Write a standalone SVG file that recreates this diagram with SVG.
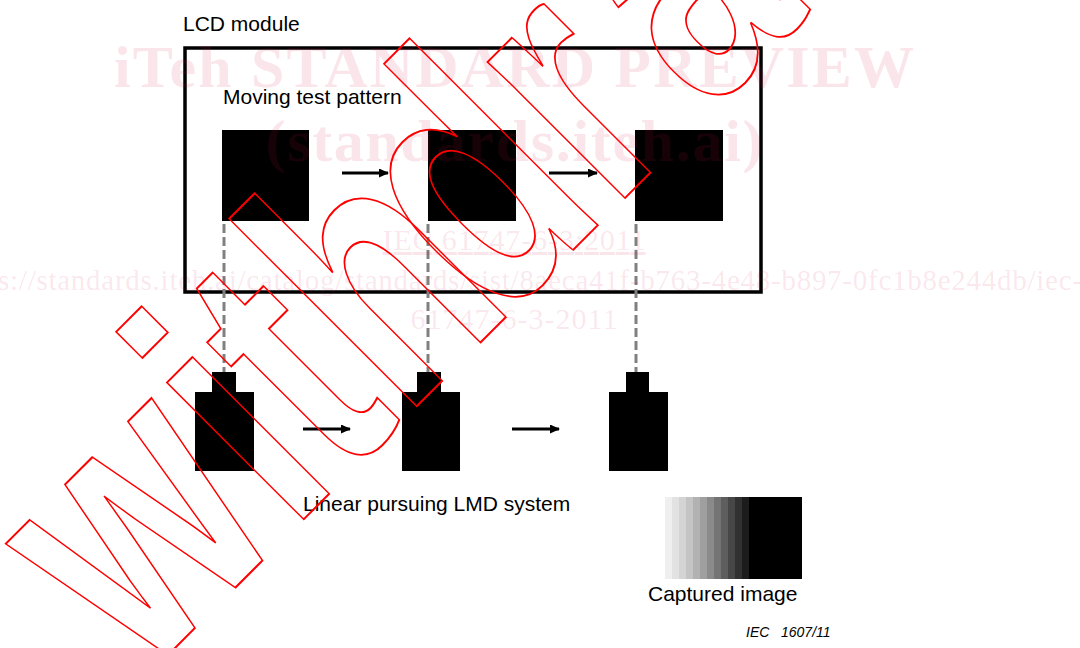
<svg xmlns="http://www.w3.org/2000/svg" width="1080" height="648" viewBox="0 0 1080 648">
<defs>
<style>
.lbl{font-family:"Liberation Sans",Arial,sans-serif;font-size:21px;fill:#000}
.blk{fill:#000}
.dash{stroke:#808080;stroke-width:3;stroke-dasharray:9,4;fill:none}
.arr{stroke:#000;stroke-width:3;fill:none;marker-end:url(#ah)}
.wm{font-family:"Liberation Serif","Times New Roman",serif;font-weight:bold;fill:#d4144a;fill-opacity:0.11}
.wm2{font-family:"Liberation Serif","Times New Roman",serif;fill:#d4144a;fill-opacity:0.11}
</style>
<marker id="ah" markerWidth="10" markerHeight="9" refX="9" refY="4.5" orient="auto" markerUnits="userSpaceOnUse">
<path d="M0,0 L10,4.5 L0,9 Z" fill="#000"/>
</marker>
</defs>
<rect width="1080" height="648" fill="#fff"/>
<g id="lcd-module">
<text class="lbl" x="183" y="31">LCD module</text>
<rect x="185" y="48" width="576" height="244" fill="none" stroke="#000" stroke-width="3.5"/>
<text class="lbl" x="223" y="104">Moving test pattern</text>
</g>
<g id="pattern1"><rect class="blk" x="222" y="130" width="87" height="91"/></g>
<g id="pattern2"><rect class="blk" x="428" y="130" width="88" height="91"/></g>
<g id="pattern3"><rect class="blk" x="635" y="130" width="88" height="91"/></g>
<g id="camera1"><path class="blk" d="M212,372 H236 V392 H254 V471 H195 V392 H212 Z"/></g>
<g id="camera2"><path class="blk" d="M417,372 H441 V392 H460 V471 H402 V392 H417 Z"/></g>
<g id="camera3"><path class="blk" d="M626,372 H649 V392 H668 V471 H609 V392 H626 Z"/></g>
<g id="connectors">
<line class="dash" x1="224" y1="224" x2="224" y2="372"/>
<line class="dash" x1="428" y1="224" x2="428" y2="372"/>
<line class="dash" x1="636" y1="224" x2="636" y2="372"/>
<line class="arr" x1="342" y1="173" x2="388" y2="173"/>
<line class="arr" x1="549" y1="173" x2="597" y2="173"/>
<line class="arr" x1="303" y1="429" x2="350" y2="429"/>
<line class="arr" x1="512" y1="429" x2="559" y2="429"/>
</g>
<g id="system-label"><text class="lbl" x="303" y="511">Linear pursuing LMD system</text></g>
<g id="captured-image">
<rect x="665" y="497" width="8" height="82" fill="#efefef"/>
<rect x="672" y="497" width="8" height="82" fill="#e2e2e2"/>
<rect x="679" y="497" width="8" height="82" fill="#d4d4d4"/>
<rect x="686" y="497" width="8" height="82" fill="#c4c4c4"/>
<rect x="693" y="497" width="8" height="82" fill="#b2b2b2"/>
<rect x="700" y="497" width="8" height="82" fill="#9f9f9f"/>
<rect x="707" y="497" width="8" height="82" fill="#8a8a8a"/>
<rect x="714" y="497" width="8" height="82" fill="#747474"/>
<rect x="721" y="497" width="8" height="82" fill="#5e5e5e"/>
<rect x="728" y="497" width="8" height="82" fill="#474747"/>
<rect x="735" y="497" width="8" height="82" fill="#313131"/>
<rect x="742" y="497" width="8" height="82" fill="#1c1c1c"/>
<rect x="749" y="497" width="53" height="82" fill="#000"/>
<text class="lbl" x="648" y="601">Captured image</text>
</g>
<g id="figure-id" font-family="Liberation Sans,Arial,sans-serif" font-size="14" font-style="italic">
<text x="746" y="637">IEC</text>
<text x="781" y="637">1607/11</text>
</g>
<g id="watermark">
<text class="wm" x="514" y="87" font-size="60" text-anchor="middle" textLength="800">iTeh STANDARD PREVIEW</text>
<text class="wm" x="514" y="161" font-size="60" text-anchor="middle" textLength="497">(standards.iteh.ai)</text>
<text class="wm2" x="514" y="250" font-size="30" text-anchor="middle" textLength="263" text-decoration="underline">IEC 61747-6-3:2011</text>
<text class="wm2" x="-2" y="290" font-size="29" textLength="1084">s://standards.iteh.ai/catalog/standards/sist/8aeca41f-b763-4e48-b897-0fc1b8e244db/iec-</text>
<text class="wm2" x="514" y="329" font-size="30" text-anchor="middle" textLength="207">61747-6-3-2011</text>
<text transform="translate(143,680) rotate(-45) scale(0.72,1)" x="0 290 390 512 694 921 1108 1310 1594" y="0" font-family="Liberation Sans,Arial,sans-serif" font-weight="bold" font-size="366" fill="none" stroke="#f00" stroke-width="2">withdrawn</text>
</g>
</svg>
